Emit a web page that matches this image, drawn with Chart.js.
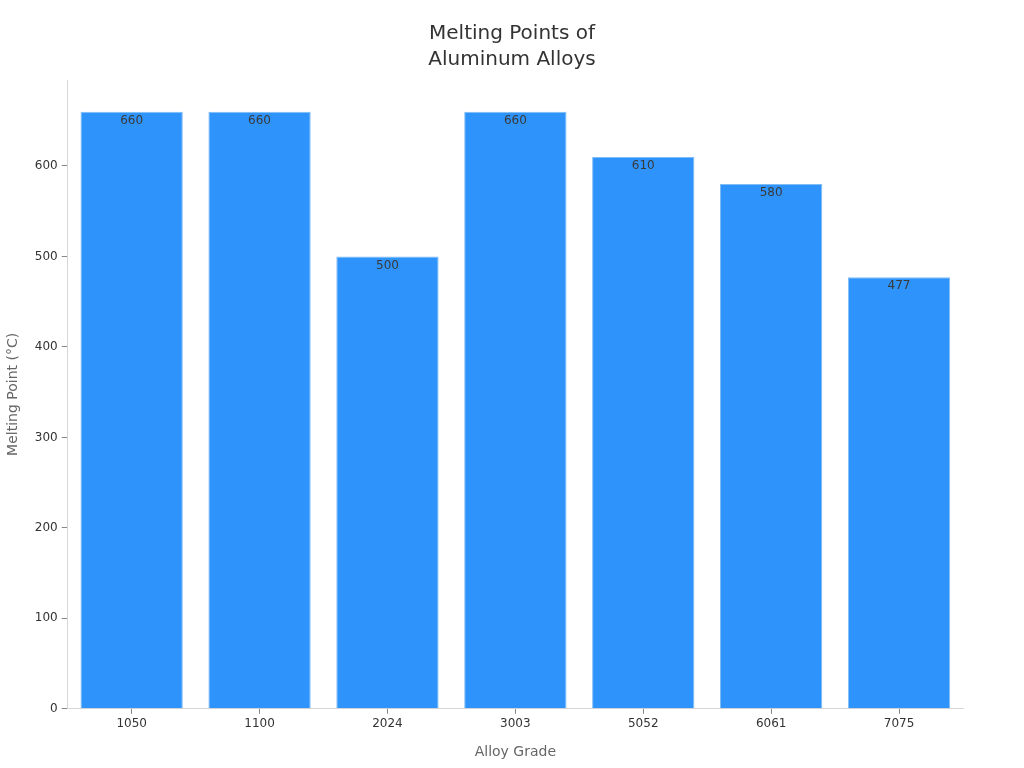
<!DOCTYPE html>
<html>
<head>
<meta charset="utf-8">
<script src="https://cdn.jsdelivr.net/npm/chart.js@4"></script>
<style>
  body { margin: 0; background: #fff; }
</style>
</head>
<body>
<canvas id="myChart" width="1024" height="768"></canvas>
<script>
const alloys = ["1050", "1100", "2024", "3003", "5052", "6061", "7075"];
const meltingPoints = [660, 660, 500, 660, 610, 580, 477];
const yTicks = [0, 100, 200, 300, 400, 500, 600];
const titleLines = ["Melting Points of", "Aluminum Alloys"];

// value labels just inside the top of each bar
const barLabels = {
  id: "barLabels",
  afterDatasetsDraw(chart) {
    const ctx = chart.ctx;
    const meta = chart.getDatasetMeta(0);
    ctx.save();
    ctx.font = "12px 'DejaVu Sans'";
    ctx.fillStyle = "#3a3a3a";
    ctx.textAlign = "center";
    ctx.textBaseline = "middle";
    meta.data.forEach((bar, i) => {
      ctx.fillText(meltingPoints[i], bar.x, bar.y + 9);
    });
    ctx.restore();
  },
};

// title centred on the whole canvas
const pageTitle = {
  id: "pageTitle",
  afterDraw(chart) {
    const ctx = chart.ctx;
    ctx.save();
    ctx.font = "20px 'DejaVu Sans'";
    ctx.fillStyle = "#333";
    ctx.textAlign = "center";
    ctx.textBaseline = "middle";
    titleLines.forEach((line, i) => {
      ctx.fillText(line, chart.width / 2, 34 + i * 26);
    });
    ctx.restore();
  },
};

const ctx = document.getElementById("myChart").getContext("2d");

const config = {
  type: "bar",
  data: {
    labels: alloys,
    datasets: [
      {
        data: meltingPoints,
        backgroundColor: "#2e93fa",
        borderColor: "#80bdf8",
        borderWidth: 1,
        barPercentage: 0.8,
        categoryPercentage: 1,
      },
    ],
  },
  options: {
    responsive: false,
    animation: false,
    layout: {
      padding: { left: 1, right: 61, top: 80, bottom: 3 },
    },
    plugins: {
      legend: { display: false },
      tooltip: { enabled: false },
      title: { display: false },
    },
    scales: {
      x: {
        grid: {
          display: true,
          offset: false,
          drawOnChartArea: false,
          drawTicks: true,
          tickLength: 5,
          color: "#888",
        },
        border: { color: "#d6d6d6" },
        ticks: {
          color: "#333",
          font: { family: "DejaVu Sans", size: 12 },
          padding: 3,
        },
        title: {
          display: true,
          text: "Alloy Grade",
          color: "#666",
          font: { family: "DejaVu Sans", size: 14 },
          padding: { top: 10 },
        },
      },
      y: {
        min: 0,
        max: 695,
        afterBuildTicks: (axis) => {
          axis.ticks = yTicks.map((v) => ({ value: v }));
        },
        grid: {
          display: true,
          drawOnChartArea: false,
          drawTicks: true,
          tickLength: 6,
          color: "#888",
        },
        border: { color: "#d6d6d6" },
        ticks: {
          color: "#333",
          font: { family: "DejaVu Sans", size: 12 },
          padding: 4,
        },
        title: {
          display: true,
          text: "Melting Point (°C)",
          color: "#666",
          font: { family: "DejaVu Sans", size: 14 },
          padding: { bottom: 9 },
        },
      },
    },
  },
  plugins: [barLabels, pageTitle],
};

const myChart = new Chart(ctx, config);
</script>
</body>
</html>
